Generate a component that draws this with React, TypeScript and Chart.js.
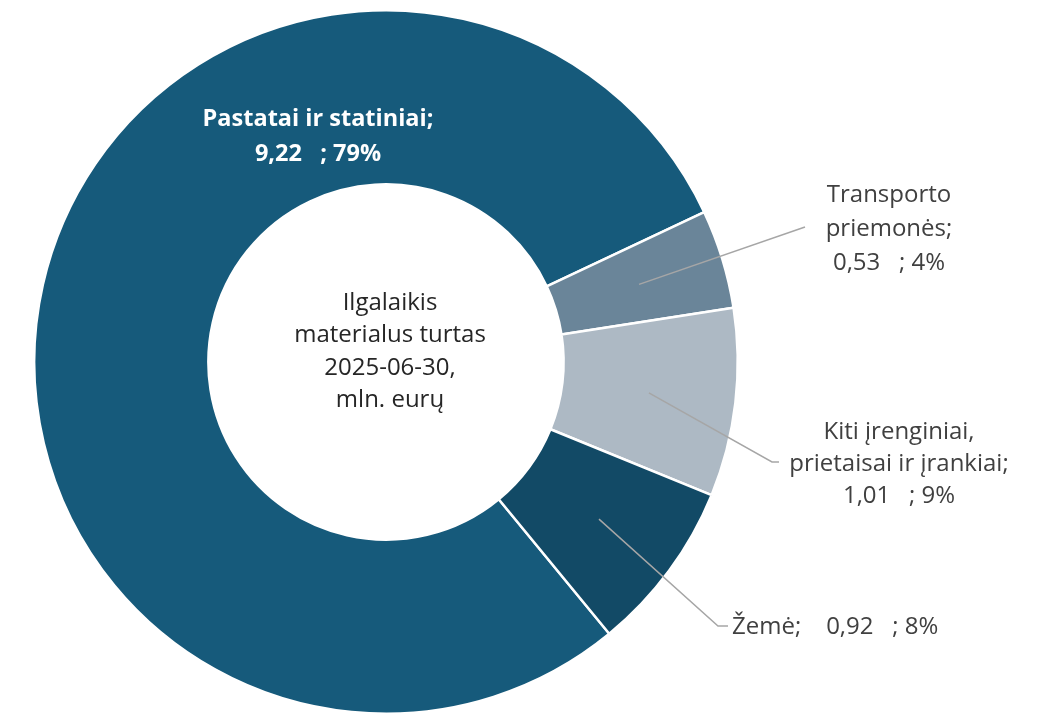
import React, { useEffect, useRef } from "react";
import { Chart, registerables } from "chart.js";

Chart.register(...registerables);

const categories = ["Pastatai ir statiniai", "Transporto priemonės", "Kiti įrenginiai, prietaisai ir įrankiai", "Žemė"];
const values = [9.22, 0.53, 1.01, 0.92];
const percents = ["79%", "4%", "9%", "8%"];
const valueLabels = ["9,22", "0,53", "1,01", "0,92"];
const colors = ["#165a7b", "#6a8599", "#adb9c4", "#124a66"];
const centerLines = ["Ilgalaikis", "materialus turtas", "2025-06-30,", "mln. eurų"];

const FONT = "'Open Sans', 'Noto Sans', sans-serif";

const labelPlugin = {
  id: "labelPlugin",
  afterDraw(chart: any) {
    const ctx = chart.ctx;
    const meta = chart.getDatasetMeta(0);
    const arcs = meta.data;
    const cx = arcs[0].x;
    const cy = arcs[0].y;
    ctx.save();
    ctx.textAlign = "center";
    ctx.textBaseline = "middle";

    // centre text
    ctx.fillStyle = "#262626";
    ctx.font = `24px ${FONT}`;
    const cy0 = cy - 59;
    centerLines.forEach((t, i) => ctx.fillText(t, cx + 4, cy0 + i * 32.5));

    // Pastatai label inside
    ctx.fillStyle = "#ffffff";
    ctx.font = `bold 23.5px ${FONT}`;
    ctx.fillText(`${categories[0].split(" ").slice(0, 3).join(" ")};`, 318, 119);
    ctx.fillText(`${valueLabels[0]}   ; ${percents[0]}`, 318, 154);

    const mid = (i: number) => {
      const a = arcs[i];
      const ang = (a.startAngle + a.endAngle) / 2;
      const r = (a.innerRadius + a.outerRadius) / 2;
      return [cx + Math.cos(ang) * r, cy + Math.sin(ang) * r];
    };

    ctx.strokeStyle = "#a6a6a6";
    ctx.lineWidth = 1.5;

    // Transporto
    let p = mid(1);
    ctx.beginPath();
    ctx.moveTo(p[0], p[1]);
    ctx.lineTo(805, 227);
    ctx.stroke();
    // Kiti
    p = mid(2);
    ctx.beginPath();
    ctx.moveTo(p[0], p[1]);
    ctx.lineTo(772, 462);
    ctx.lineTo(779, 462);
    ctx.stroke();
    // Žemė
    p = mid(3);
    ctx.beginPath();
    ctx.moveTo(p[0], p[1]);
    ctx.lineTo(718, 626);
    ctx.lineTo(728, 626);
    ctx.stroke();

    ctx.fillStyle = "#404040";
    ctx.font = `24px ${FONT}`;
    ctx.fillText("Transporto", 889, 195);
    ctx.fillText("priemonės;", 889, 229);
    ctx.fillText(`${valueLabels[1]}   ; ${percents[1]}`, 889, 263);

    ctx.fillText("Kiti įrenginiai,", 899, 432);
    ctx.fillText("prietaisai ir įrankiai;", 899, 464);
    ctx.fillText(`${valueLabels[2]}   ; ${percents[2]}`, 899, 496);

    ctx.textAlign = "left";
    ctx.fillText(`Žemė;    ${valueLabels[3]}   ; ${percents[3]}`, 732, 627);
    ctx.restore();
  },
};

export default function App() {
  const ref = useRef<HTMLCanvasElement>(null);
  useEffect(() => {
    if (!ref.current) return;
    const chart = new Chart(ref.current, {
      type: "doughnut",
      data: {
        labels: categories,
        datasets: [
          {
            data: values,
            backgroundColor: colors,
            borderColor: "#ffffff",
            borderWidth: 2.5,
            hoverOffset: 0,
            offset: 0,
          },
        ],
      },
      options: {
        responsive: false,
        animation: false,
        rotation: 140.6,
        cutout: "50.5%",
        layout: { padding: { left: 33, right: 314, top: 9, bottom: 2 } },
        plugins: { legend: { display: false }, tooltip: { enabled: false } },
        events: [],
      },
      plugins: [labelPlugin],
    });
    return () => chart.destroy();
  }, []);
  return (
    <div style={{ position: "fixed", left: 0, top: 0, width: 1053, height: 717, background: "#fff" }}>
      <canvas ref={ref} width={1053} height={717} style={{ width: 1053, height: 717 }} />
    </div>
  );
}
